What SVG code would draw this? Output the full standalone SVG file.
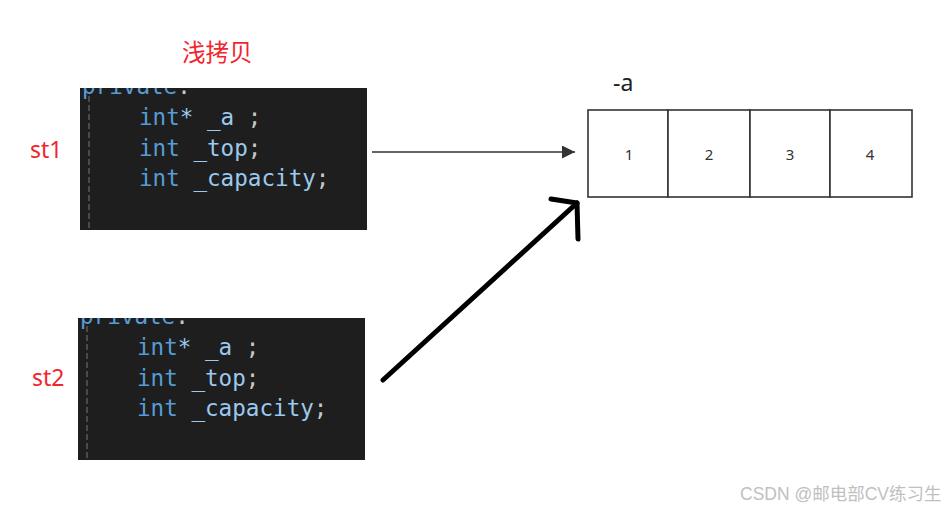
<svg xmlns="http://www.w3.org/2000/svg" width="951" height="512" viewBox="0 0 951 512">
<defs>
<style>
.code{font-family:"DejaVu Sans Mono","Liberation Mono",monospace;font-size:22.6px;}
.kw{fill:#569cd6;}
.id{fill:#9cc9ee;}
.pun{fill:#c8c8c8;}
.lbl{font-family:"Noto Sans","Liberation Sans","Noto Sans CJK SC",sans-serif;fill:#f0262f;}
.cell{fill:#ffffff;stroke:#333333;stroke-width:1.6;}
.num{font-family:"Noto Sans","Liberation Sans",sans-serif;font-size:15px;fill:#333333;text-anchor:middle;}
.guide{stroke:#5a5a5a;stroke-width:1.5;stroke-dasharray:6 3;}
</style>
<clipPath id="c1"><rect x="80" y="88" width="287" height="142"/></clipPath>
<clipPath id="c2"><rect x="78" y="318" width="287" height="142"/></clipPath>
<marker id="ah" viewBox="0 0 10 10" refX="10" refY="5" markerWidth="18" markerHeight="13" markerUnits="userSpaceOnUse" orient="auto">
<path d="M0,0 L10,5 L0,10 z" fill="#333333"/>
</marker>
</defs>

<text class="lbl" x="182" y="61" font-size="23.5">浅拷贝</text>

<g id="st1">
<text class="lbl" x="30" y="158" font-size="23">st1</text>
<rect x="80" y="88" width="287" height="142" fill="#1e1e1e"/>
<g clip-path="url(#c1)">
<text class="code kw" x="82" y="94">private<tspan class="pun">:</tspan></text>
<line class="guide" x1="89" y1="96" x2="89" y2="230"/>
</g>
<text class="code" x="139" y="125"><tspan class="kw">int</tspan><tspan class="id">* _a </tspan><tspan class="pun">;</tspan></text>
<text class="code" x="139" y="155.5"><tspan class="kw">int</tspan><tspan class="id"> _top</tspan><tspan class="pun">;</tspan></text>
<text class="code" x="139" y="186"><tspan class="kw">int</tspan><tspan class="id"> _capacity</tspan><tspan class="pun">;</tspan></text>
</g>

<g id="st2">
<text class="lbl" x="32" y="386" font-size="23">st2</text>
<rect x="78" y="318" width="287" height="142" fill="#1e1e1e"/>
<g clip-path="url(#c2)">
<text class="code kw" x="80" y="324">private<tspan class="pun">:</tspan></text>
<line class="guide" x1="87" y1="326" x2="87" y2="460"/>
</g>
<text class="code" x="137" y="355"><tspan class="kw">int</tspan><tspan class="id">* _a </tspan><tspan class="pun">;</tspan></text>
<text class="code" x="137" y="385.5"><tspan class="kw">int</tspan><tspan class="id"> _top</tspan><tspan class="pun">;</tspan></text>
<text class="code" x="137" y="416"><tspan class="kw">int</tspan><tspan class="id"> _capacity</tspan><tspan class="pun">;</tspan></text>
</g>

<g id="array">
<text x="613" y="91" font-family="Noto Sans, Liberation Sans, sans-serif" font-size="23" fill="#222222">-a</text>
<rect class="cell" x="588" y="110" width="80" height="87"/>
<rect class="cell" x="668" y="110" width="82" height="87"/>
<rect class="cell" x="750" y="110" width="80" height="87"/>
<rect class="cell" x="830" y="110" width="82" height="87"/>
<text class="num" x="629" y="160">1</text>
<text class="num" x="709" y="160">2</text>
<text class="num" x="790" y="160">3</text>
<text class="num" x="870" y="160">4</text>
</g>

<g id="connectors">
<line x1="372" y1="152" x2="575" y2="152" stroke="#333333" stroke-width="1.5" marker-end="url(#ah)"/>
<path d="M383,380 L577,203" fill="none" stroke="#000000" stroke-width="5" stroke-linecap="round"/>
<path d="M551,199 L577,203 L578,239" fill="none" stroke="#000000" stroke-width="5" stroke-linecap="round" stroke-linejoin="round"/>
</g>

<text x="740" y="500" font-family="Liberation Sans, Noto Sans CJK SC, sans-serif" font-size="17.5" fill="#c0c0c0">CSDN @邮电部CV练习生</text>
</svg>
